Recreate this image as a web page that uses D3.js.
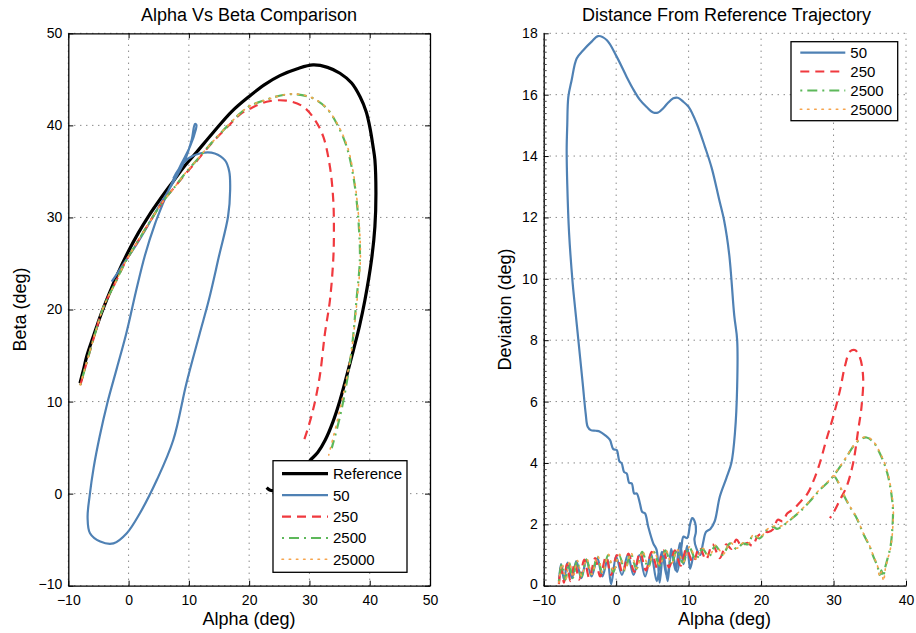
<!DOCTYPE html>
<html><head><meta charset="utf-8">
<script src="https://cdn.jsdelivr.net/npm/d3@7"></script>
<style>body{margin:0;background:#fff}svg{font-family:"Liberation Sans",Arial,Helvetica,sans-serif}</style>
</head><body><svg id="c" width="916" height="633"></svg>
<script>
// ---------- DATA ----------
const leftTitle = "Alpha Vs Beta Comparison";
const rightTitle = "Distance From Reference Trajectory";
const seriesNames = ["Reference", "50", "250", "2500", "25000"];
const leftXTicks = [-10, 0, 10, 20, 30, 40, 50];
const leftYTicks = [-10, 0, 10, 20, 30, 40, 50];
const rightXTicks = [-10, 0, 10, 20, 30, 40];
const rightYTicks = [0, 2, 4, 6, 8, 10, 12, 14, 16, 18];

// Left plot: [alpha, beta]
const refAB = [[-8.06,12.0],[-7.5,13.4],[-6.95,14.9],[-6.1,16.6],[-5.29,18.15],[-4.5,19.6],[-3.64,21.04],[-1.8,23.9],[-0.05,26.3],[1.6,28.3],[3.27,30.1],[5.2,31.95],[7.15,33.7],[9.2,35.5],[11.3,37.1],[14.0,39.2],[17.1,41.5],[20.1,43.2],[22.5,44.4],[25.1,45.4],[28.0,46.15],[30.6,46.56],[33.0,46.3],[35.06,45.66],[37.0,44.6],[38.4,43.1],[39.4,41.5],[40.0,39.86],[40.6,37.5],[40.86,36.25],[41.03,32.6],[40.86,29.0],[40.3,25.4],[39.2,21.0],[38.3,18.2],[37.3,15.6],[35.1,10.2],[33.9,7.8],[32.6,5.8],[31.4,4.5],[30.1,3.6],[28.5,2.4],[27.0,1.5],[25.5,0.8],[24.0,0.33],[23.4,0.4],[22.9,0.65]];
const ab50 = [[-2.8,23.03],[-1.14,24.66],[1.61,27.37],[4.38,30.46],[7.15,33.53],[9.35,36.24],[10.46,38.41],[11.01,40.15],[11.25,40.05],[11.13,39.5],[10.18,37.69],[8.8,35.88],[7.7,34.43],[6.6,32.9],[5.76,31.6],[4.38,29.3],[2.72,25.9],[1.2,21.9],[0.3,19.3],[-0.5,17.1],[-2.0,13.5],[-3.5,9.9],[-4.8,6.2],[-5.8,2.8],[-6.45,-0.2],[-6.8,-2.6],[-6.4,-4.3],[-4.7,-5.2],[-2.5,-5.4],[-0.3,-4.3],[1.9,-2.1],[4.7,1.5],[7.4,5.8],[9.6,12.0],[11.8,17.4],[13.3,21.0],[15.0,25.8],[16.5,30.1],[16.85,33.0],[16.7,35.0],[16.0,36.2],[14.3,36.95],[12.1,37.0],[9.9,36.4],[8.24,35.16],[7.4,34.2]];
const ab250 = [[-8.0,11.8],[-7.4,13.2],[-6.8,14.6],[-5.6,17.3],[-4.2,20.2],[-2.25,22.85],[-0.5,25.2],[1.06,26.9],[3.3,29.3],[5.49,31.54],[7.7,33.35],[9.4,34.7],[11.0,35.9],[13.78,38.06],[16.5,39.9],[18.5,41.2],[20.1,41.8],[22.9,42.57],[26.2,42.68],[28.97,42.03],[30.9,40.6],[32.3,38.77],[33.4,35.5],[33.95,31.9],[34.06,28.3],[33.95,25.4],[33.4,21.0],[32.57,17.4],[31.7,12.7],[30.6,9.1],[29.5,6.57],[28.87,5.4]];
const ab2500 = [[-8.0,11.8],[-7.4,13.2],[-6.8,14.6],[-5.6,17.3],[-4.2,20.2],[-2.25,22.85],[-0.5,25.2],[1.06,26.9],[3.3,29.3],[5.49,31.54],[7.7,33.35],[9.4,34.8],[11.0,36.0],[13.78,38.1],[16.5,40.0],[18.5,41.3],[20.1,42.1],[22.9,42.8],[25.66,43.3],[27.9,43.37],[30.6,42.94],[32.85,41.86],[34.5,40.23],[36.17,37.7],[37.3,34.4],[37.93,31.17],[38.26,28.3],[38.37,25.4],[37.8,21.0],[37.0,15.6],[36.17,12.0],[35.06,8.37],[33.7,4.94]];
const ab25000 = [[-8.0,11.8],[-7.4,13.2],[-6.8,14.6],[-5.6,17.3],[-4.2,20.2],[-2.25,22.85],[-0.5,25.2],[1.06,26.9],[3.3,29.3],[5.49,31.54],[7.7,33.35],[9.4,34.8],[11.0,36.0],[13.78,38.1],[16.5,40.0],[18.5,41.3],[20.1,42.1],[22.9,42.8],[25.66,43.3],[27.9,43.4],[30.6,42.95],[32.9,41.85],[34.6,40.2],[36.3,37.7],[37.4,34.4],[38.0,31.2],[38.35,28.3],[38.45,25.4],[37.9,21.0],[37.0,15.6],[36.0,12.0],[34.8,8.4],[33.2,4.2]];

// Right plot: [alpha, deviation]
const dev50 = [[-7.9,0.1],[-7.6,0.7],[-7.2,0.2],[-6.7,0.75],[-6.1,0.25],[-5.5,0.8],[-4.8,0.25],[-4.1,0.85],[-3.4,0.3],[-2.6,0.9],[-1.9,0.3],[-1.2,0.85],[-0.7,0.05],[0.0,0.95],[0.8,0.35],[1.6,1.0],[2.4,0.35],[3.2,1.0],[4.0,0.3],[4.8,1.05],[5.6,0.15],[6.3,1.1],[7.0,0.3],[7.7,1.1],[8.4,0.45],[9.0,1.25],[9.3,1.6],[9.8,1.55],[10.2,2.0],[10.5,2.2],[10.9,2.05],[11.0,1.75],[10.8,1.5],[11.1,1.2],[11.6,1.0],[12.0,1.4],[12.4,1.75],[13.0,1.85],[13.6,2.1],[14.3,2.9],[15.2,3.5],[15.9,4.0],[16.4,5.0],[16.7,6.5],[16.7,8.0],[16.3,8.8],[15.6,10.8],[14.9,11.9],[14.2,12.6],[13.2,13.6],[12.25,14.3],[11.1,15.07],[10.0,15.6],[9.26,15.77],[8.5,15.9],[7.88,15.88],[7.1,15.72],[6.5,15.56],[5.8,15.42],[5.12,15.42],[4.2,15.6],[3.28,15.83],[2.3,16.2],[1.45,16.58],[0.07,17.24],[-1.31,17.78],[-2.47,17.91],[-3.38,17.73],[-4.54,17.45],[-5.45,17.18],[-6.14,16.48],[-6.6,15.93],[-6.75,15.0],[-6.83,14.19],[-6.75,13.1],[-6.5,11.5],[-6.0,9.85],[-5.78,9.31],[-5.31,8.22],[-4.62,6.6],[-4.2,5.6],[-3.93,5.18],[-3.5,5.07],[-2.8,5.05],[-2.23,5.02],[-1.5,4.9],[-0.86,4.75],[-0.4,4.45],[0.07,4.42],[0.45,4.05],[0.76,3.99],[1.1,3.7],[1.45,3.66],[1.8,3.35],[2.14,3.34],[2.5,3.0],[2.83,3.01],[3.28,2.68],[3.6,2.4],[3.97,2.36],[4.43,1.92],[5.12,1.38],[5.59,1.16],[6.0,0.1],[6.5,1.1],[7.1,0.15],[7.6,1.2],[8.2,0.5],[8.8,1.4],[9.3,0.7],[9.8,1.3],[10.2,0.55],[10.6,0.95]];
const dev250 = [[-7.9,0.05],[-7.6,0.6],[-7.2,0.1],[-6.8,0.7],[-6.3,0.15],[-5.7,0.75],[-5.1,0.2],[-4.4,0.85],[-3.7,0.25],[-2.9,0.9],[-2.2,0.3],[-1.4,0.95],[-0.7,0.35],[0.1,1.0],[0.9,0.4],[1.7,1.05],[2.5,0.45],[3.3,1.1],[4.1,0.5],[4.9,1.1],[5.7,0.55],[6.5,1.15],[7.3,0.6],[8.1,1.15],[8.9,0.65],[9.7,1.2],[10.6,0.75],[11.5,1.25],[12.4,0.85],[13.3,1.35],[14.3,0.9],[15.2,1.35],[15.9,1.2],[16.6,1.5],[17.3,1.3],[18.1,1.4],[18.8,1.3],[19.5,1.6],[20.4,1.75],[21.0,1.75],[21.7,1.85],[22.3,2.15],[23.0,2.1],[23.6,2.35],[24.5,2.5],[25.5,2.75],[26.4,3.0],[27.2,3.4],[28.1,3.99],[29.0,4.75],[29.95,5.5],[30.9,6.38],[31.56,7.14],[32.26,7.63],[32.94,7.68],[33.6,7.46],[34.08,6.81],[33.86,5.83],[33.4,5.07],[32.7,3.99],[31.8,3.23],[30.87,2.79],[29.95,2.36],[29.5,2.2]];
const dev2500 = [[-7.9,0.15],[-7.5,0.7],[-7.0,0.2],[-6.5,0.75],[-6.0,0.25],[-5.4,0.8],[-4.8,0.3],[-4.1,0.85],[-3.4,0.35],[-2.6,0.95],[-1.9,0.4],[-1.1,1.0],[-0.4,0.45],[0.4,1.0],[1.2,0.5],[2.0,1.05],[2.8,0.55],[3.6,1.1],[4.4,0.6],[5.2,1.1],[6.0,0.65],[6.8,1.15],[7.6,0.7],[8.4,1.15],[9.2,0.75],[10.1,1.25],[11.0,0.85],[11.9,1.2],[12.8,0.95],[13.7,1.3],[14.7,1.0],[15.7,1.38],[16.6,1.2],[17.5,1.38],[18.2,1.35],[18.9,1.65],[19.8,1.54],[20.76,1.81],[21.67,1.92],[22.2,1.85],[22.83,1.92],[24.0,2.14],[25.35,2.41],[26.7,2.74],[28.1,3.12],[29.5,3.44],[30.4,3.71],[31.56,4.1],[32.7,4.53],[33.6,4.75],[34.55,4.83],[35.46,4.69],[36.4,4.31],[37.3,3.77],[37.9,3.12],[38.2,2.47],[38.1,1.81],[37.86,1.27],[37.4,0.84],[37.1,0.57],[36.84,0.29],[36.6,0.5],[36.4,0.35],[36.1,0.6],[35.9,0.73],[35.5,0.95],[35.0,1.27],[34.08,1.71],[33.2,2.2],[32.26,2.57],[31.3,3.01],[30.6,3.39],[30.2,3.55]];
const dev25000 = [[-7.9,0.1],[-7.45,0.72],[-6.95,0.22],[-6.45,0.78],[-5.95,0.27],[-5.35,0.82],[-4.75,0.32],[-4.05,0.88],[-3.35,0.37],[-2.55,0.97],[-1.85,0.42],[-1.05,1.02],[-0.35,0.47],[0.45,1.02],[1.25,0.52],[2.05,1.07],[2.85,0.57],[3.65,1.12],[4.45,0.62],[5.25,1.12],[6.05,0.67],[6.85,1.17],[7.65,0.72],[8.45,1.17],[9.25,0.77],[10.15,1.27],[11.05,0.87],[11.95,1.22],[12.85,0.97],[13.75,1.32],[14.75,1.02],[15.75,1.4],[16.65,1.22],[17.55,1.4],[18.25,1.37],[18.95,1.67],[19.85,1.56],[20.8,1.83],[21.7,1.94],[22.85,1.95],[24.0,2.16],[25.35,2.43],[26.7,2.76],[28.1,3.14],[29.5,3.46],[30.4,3.73],[31.56,4.12],[32.7,4.55],[33.6,4.77],[34.6,4.85],[35.5,4.7],[36.45,4.32],[37.35,3.78],[37.95,3.12],[38.25,2.47],[38.15,1.81],[37.9,1.27],[37.45,0.84],[37.15,0.55],[36.9,0.15],[36.6,0.45],[36.35,0.3],[36.1,0.62],[35.9,0.75],[35.5,0.97],[35.0,1.29],[34.08,1.73],[33.2,2.22],[32.26,2.59],[31.3,3.03],[30.6,3.41],[30.15,3.58]];

// ---------- STYLES ----------
const styles = {
  "Reference": {color:"#000000", width:3.2, dash:null},
  "50":        {color:"#4F81B4", width:2.2, dash:null},
  "250":       {color:"#F0393E", width:2.2, dash:"9,6"},
  "2500":      {color:"#5DB85A", width:2.2, dash:"2,5,10,5"},
  "25000":     {color:"#F7A44C", width:1.6, dash:"1.5,5.7"}
};

const svg = d3.select("#c");
const FONT_TICK = 14, FONT_LEG = 15, FONT_LAB = 18;

function grid(g, x, y, xt, yt) {
  const [x0, x1] = x.range(), [y0, y1] = y.range();
  g.append("g").selectAll("line").data(xt).join("line")
    .attr("x1", d=>x(d)).attr("x2", d=>x(d)).attr("y1", y0).attr("y2", y1)
    .attr("stroke", "#555").attr("stroke-width", 1).attr("stroke-dasharray", "1,5");
  g.append("g").selectAll("line").data(yt).join("line")
    .attr("y1", d=>y(d)).attr("y2", d=>y(d)).attr("x1", x0).attr("x2", x1)
    .attr("stroke", "#555").attr("stroke-width", 1).attr("stroke-dasharray", "1,5");
}

function drawAxes(g, x, y, xt, yt, boxed, minorY) {
  const [x0, x1] = x.range(), [y0, y1] = y.range();
  const fmt = d3.format("");
  const ax = g.append("g").attr("transform", `translate(0,${y0})`)
    .call(d3.axisBottom(x).tickValues(xt).tickFormat(fmt).tickSizeInner(-5).tickSizeOuter(0).tickPadding(9));
  const ay = g.append("g").attr("transform", `translate(${x0},0)`)
    .call(d3.axisLeft(y).tickValues(yt).tickFormat(fmt).tickSizeInner(-5).tickSizeOuter(0).tickPadding(6));
  [ax, ay].forEach(a => {
    a.selectAll("text").attr("font-size", FONT_TICK).attr("fill", "#000").attr("font-family", '"Liberation Sans",Arial,sans-serif');
    a.selectAll("line").attr("stroke", "#000");
    a.select(".domain").attr("stroke", "#000").attr("stroke-width", 1.3);
  });
  ay.selectAll(".tick text").filter(d => d === yt[0]).attr("dy", "0.2em");
  if (boxed) {
    const at = g.append("g").attr("transform", `translate(0,${y1})`)
      .call(d3.axisTop(x).tickValues(xt).tickFormat("").tickSizeInner(-5).tickSizeOuter(0));
    const ar = g.append("g").attr("transform", `translate(${x1},0)`)
      .call(d3.axisRight(y).tickValues(yt).tickFormat("").tickSizeInner(-5).tickSizeOuter(0));
    [at, ar].forEach(a => { a.selectAll("line").attr("stroke", "#000"); a.select(".domain").attr("stroke", "#000").attr("stroke-width", 1.3); });
  }
  if (minorY) {
    g.append("g").attr("transform", `translate(${x0},0)`)
      .call(d3.axisLeft(y).tickValues(minorY).tickFormat("").tickSizeInner(-3).tickSizeOuter(0))
      .call(a => { a.select(".domain").remove(); a.selectAll("line").attr("stroke", "#444"); });
  }
}

function drawSeries(g, x, y, data, name, clipId) {
  const s = styles[name];
  const line = d3.line().x(d=>x(d[0])).y(d=>y(d[1])).curve(d3.curveCatmullRom.alpha(0.5));
  g.append("path").datum(data).attr("d", line).attr("fill", "none")
    .attr("stroke", s.color).attr("stroke-width", s.width)
    .attr("stroke-dasharray", s.dash).attr("stroke-linejoin", "round")
    .attr("stroke-linecap", name === "25000" ? "round" : "butt")
    .attr("clip-path", `url(#${clipId})`);
}

function drawLegend(g, x0, y0, w, h, names, rowY, sx0, sx1, tx) {
  g.append("rect").attr("x", x0).attr("y", y0).attr("width", w).attr("height", h)
    .attr("fill", "#fff").attr("stroke", "#000").attr("stroke-width", 1.3);
  names.forEach((n, i) => {
    const s = styles[n];
    g.append("line").attr("x1", sx0).attr("x2", sx1).attr("y1", rowY[i]).attr("y2", rowY[i])
      .attr("stroke", s.color).attr("stroke-width", s.width).attr("stroke-dasharray", s.dash)
      .attr("stroke-linecap", n === "25000" ? "round" : "butt");
    g.append("text").attr("x", tx).attr("y", rowY[i]).attr("dy", "0.36em")
      .attr("font-size", FONT_LEG).text(n);
  });
}

svg.append("defs").html(
  `<clipPath id="clipL"><rect x="68.3" y="33.3" width="361.7" height="552.4"/></clipPath>
   <clipPath id="clipR"><rect x="543.7" y="33.3" width="362.3" height="552.4"/></clipPath>`);

// ---------- LEFT PLOT ----------
const xL = d3.scaleLinear().domain([-10, 50]).range([68.3, 430]);
const yL = d3.scaleLinear().domain([-10, 50]).range([585.7, 33.3]);
const gL = svg.append("g");
grid(gL, xL, yL, leftXTicks, leftYTicks);
drawSeries(gL, xL, yL, refAB, "Reference", "clipL");
drawSeries(gL, xL, yL, ab50, "50", "clipL");
drawSeries(gL, xL, yL, ab250, "250", "clipL");
drawSeries(gL, xL, yL, ab2500, "2500", "clipL");
drawSeries(gL, xL, yL, ab25000, "25000", "clipL");
drawAxes(gL, xL, yL, leftXTicks, leftYTicks, true, null);
drawLegend(gL, 273, 460.7, 134, 111.6, seriesNames, [473.7, 495.2, 516.7, 538.0, 559.3], 282, 328, 333);
gL.append("text").attr("x", 249).attr("y", 21).attr("text-anchor", "middle").attr("font-size", FONT_LAB).text(leftTitle);
gL.append("text").attr("x", 249).attr("y", 624.5).attr("text-anchor", "middle").attr("font-size", FONT_LAB).text("Alpha (deg)");
gL.append("text").attr("transform", "translate(26.2,309.5) rotate(-90)").attr("text-anchor", "middle").attr("font-size", FONT_LAB).text("Beta (deg)");

// ---------- RIGHT PLOT ----------
const xR = d3.scaleLinear().domain([-10, 40]).range([543.7, 906]);
const yR = d3.scaleLinear().domain([0, 18]).range([585.7, 33.3]);
const gR = svg.append("g");
grid(gR, xR, yR, rightXTicks, rightYTicks);
drawSeries(gR, xR, yR, dev50, "50", "clipR");
drawSeries(gR, xR, yR, dev250, "250", "clipR");
drawSeries(gR, xR, yR, dev2500, "2500", "clipR");
drawSeries(gR, xR, yR, dev25000, "25000", "clipR");
const minorY = d3.range(0, 18.01, 0.2).filter(v => Math.abs(v/2 - Math.round(v/2)) > 1e-6);
drawAxes(gR, xR, yR, rightXTicks, rightYTicks, false, minorY);
drawLegend(gR, 791, 41.7, 106.7, 79, seriesNames.slice(1), [52.7, 71.5, 90.5, 109.3], 800.3, 845.3, 850.3);
gR.append("text").attr("x", 726.5).attr("y", 21).attr("text-anchor", "middle").attr("font-size", FONT_LAB).text(rightTitle);
gR.append("text").attr("x", 724.5).attr("y", 624.5).attr("text-anchor", "middle").attr("font-size", FONT_LAB).text("Alpha (deg)");
gR.append("text").attr("transform", "translate(510.5,309.5) rotate(-90)").attr("text-anchor", "middle").attr("font-size", FONT_LAB).text("Deviation (deg)");
</script></body></html>
